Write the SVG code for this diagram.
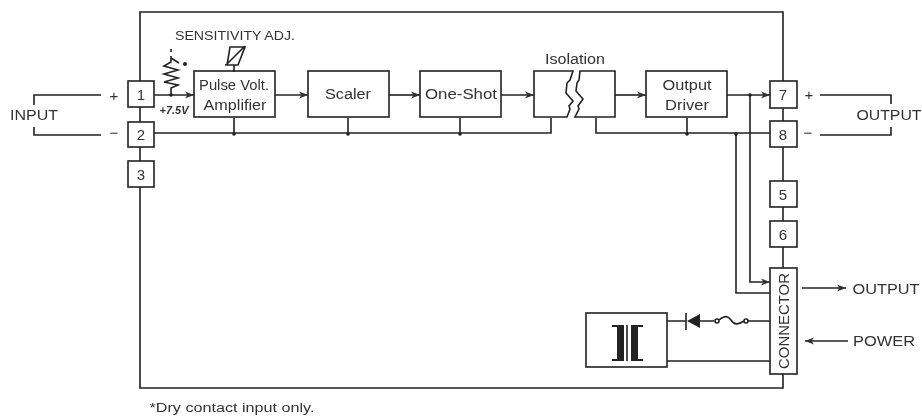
<svg xmlns="http://www.w3.org/2000/svg" width="922" height="416" viewBox="0 0 922 416">
<style>
text{font-family:"Liberation Sans",Arial,sans-serif;font-size:14px;fill:#333;text-anchor:middle}
.b{fill:#fff;stroke:#222;stroke-width:1.6}
.l{fill:none;stroke:#222;stroke-width:1.6}
.a{fill:none;stroke:#222;stroke-width:1.6;marker-end:url(#ah)}
.d{fill:#222;stroke:none}
.n{font-size:15px}
</style>
<defs>
<marker id="ah" markerUnits="userSpaceOnUse" markerWidth="10" markerHeight="8" refX="9" refY="4" orient="auto"><path d="M0,0.5L9,4L0,7.5L2.5,4Z" fill="#333"/></marker>
<filter id="s" x="-5%" y="-5%" width="110%" height="110%"><feGaussianBlur stdDeviation="0.45"/></filter>
</defs>
<rect width="922" height="416" fill="#fff"/>
<g filter="url(#s)">
<g id="connectors">
<path class="l" d="M140,81V12H783V81M140,107V122M140,147V161M140,187V388H783V374M783,108V121M783,147V181M783,207V221M783,247V268"/>
<path class="l" d="M101,95H34V105M34,127V135H101M820,95H891V104M891,127V135H820"/>
<path class="a" d="M154,95H194"/>
<path class="a" d="M275,95H308"/>
<path class="a" d="M389,95H420"/>
<path class="a" d="M501,95H534"/>
<path class="a" d="M615,95H646"/>
<path class="a" d="M727,95H770"/>
<path class="l" d="M154,133H551V118M596,118V133H770"/>
<path class="l" d="M234,118V133M348,118V133M460,118V133M687,118V133"/>
<path class="l" d="M736,133V293H770"/>
<path class="a" d="M750,95V282H770"/>
<path class="a" d="M802,288H846"/>
<path class="a" d="M848,341H805"/>
<path class="l" d="M667,321H686M700,321H714M748,321H770M667,361H770"/>
<circle class="d" cx="234" cy="134" r="1.8"/><circle class="d" cx="348" cy="134" r="1.8"/><circle class="d" cx="460" cy="134" r="1.8"/><circle class="d" cx="687" cy="134" r="1.8"/><circle class="d" cx="736" cy="134" r="1.8"/><circle class="d" cx="750" cy="95" r="1.8"/><circle class="d" cx="171" cy="95" r="1.8"/>
</g>
<g id="node-1"><rect class="b" x="128" y="81" width="26" height="26"/><text class="n" x="141" y="100">1</text></g>
<g id="node-2"><rect class="b" x="128" y="122" width="26" height="25"/><text class="n" x="141" y="140">2</text></g>
<g id="node-3"><rect class="b" x="128" y="161" width="26" height="26"/><text class="n" x="141" y="180">3</text></g>
<g id="node-7"><rect class="b" x="770" y="81" width="27" height="27"/><text class="n" x="783" y="100">7</text></g>
<g id="node-8"><rect class="b" x="770" y="121" width="27" height="26"/><text class="n" x="783" y="140">8</text></g>
<g id="node-5"><rect class="b" x="770" y="181" width="27" height="26"/><text class="n" x="783" y="200">5</text></g>
<g id="node-6"><rect class="b" x="770" y="221" width="27" height="26"/><text class="n" x="783" y="240">6</text></g>
<g id="pulse"><rect class="b" x="194" y="71" width="81" height="46"/><text x="234" y="90" textLength="70" lengthAdjust="spacingAndGlyphs">Pulse Volt.</text><text x="235" y="110" textLength="63" lengthAdjust="spacingAndGlyphs">Amplifier</text></g>
<g id="scaler"><rect class="b" x="308" y="71" width="81" height="46"/><text x="348" y="99" textLength="46" lengthAdjust="spacingAndGlyphs">Scaler</text></g>
<g id="oneshot"><rect class="b" x="420" y="71" width="81" height="46"/><text x="461" y="99" textLength="72" lengthAdjust="spacingAndGlyphs">One-Shot</text></g>
<g id="isolation">
<path class="b" d="M573,71H534V117H567L570,109L569,106L573,101L566,93L567,83L570,80Z"/>
<path class="b" d="M580,71H615V117H575L579,109L578,106L583,99L576,91L577,83L579,80Z"/>
<text x="575" y="64" textLength="60" lengthAdjust="spacingAndGlyphs">Isolation</text>
</g>
<g id="driver"><rect class="b" x="646" y="71" width="81" height="46"/><text x="687" y="90" textLength="49" lengthAdjust="spacingAndGlyphs">Output</text><text x="687" y="110" textLength="44" lengthAdjust="spacingAndGlyphs">Driver</text></g>
<g id="connector"><rect class="b" x="770" y="268" width="27" height="106"/><text transform="translate(789,321) rotate(-90)" textLength="96" lengthAdjust="spacingAndGlyphs">CONNECTOR</text></g>
<g id="supply">
<rect class="b" x="586" y="313" width="81" height="54"/>
<path class="d" d="M612,325H624V361H612V359H617V327H612Z"/>
<path class="d" d="M643,325H631V361H643V359H638V327H643Z"/>
<path class="l" d="M627,325V361"/>
</g>
<g id="diode-fuse">
<path class="l" d="M686,313V330"/>
<path class="d" d="M687,321L700,314V328Z"/>
<circle class="l" cx="717" cy="321" r="2"/><circle class="l" cx="746" cy="321" r="2"/>
<path class="l" d="M719,320C725,315 728,316 731,320C734,325 738,325 744,321"/>
</g>
<g id="sensitivity">
<path class="l" d="M171,49V52M171,56V62L164,66L178,70L164,74L178,78L164,82L178,85L171,88V95"/>
<path class="l" d="M171,58L179,63"/>
<circle class="d" cx="185" cy="64" r="2"/>
<path class="l" d="M230,47H245L238,65H227ZM234,72V65M225,65H229M226,65L245,46"/>
<text x="235" y="40" style="font-size:12px" textLength="120" lengthAdjust="spacingAndGlyphs">SENSITIVITY ADJ.</text>
<text x="174" y="114" style="font-size:10px;font-style:italic;font-weight:bold" textLength="29" lengthAdjust="spacingAndGlyphs">+7.5V</text>
</g>
<g id="labels">
<text x="34" y="120" textLength="48" lengthAdjust="spacingAndGlyphs">INPUT</text>
<text class="n" x="114" y="101">+</text><text class="n" x="114" y="138">−</text>
<text class="n" x="809" y="100">+</text><text class="n" x="808" y="138">−</text>
<text x="889" y="120" textLength="65" lengthAdjust="spacingAndGlyphs">OUTPUT</text>
<text x="886" y="294" textLength="67" lengthAdjust="spacingAndGlyphs">OUTPUT</text>
<text x="884" y="346" textLength="62" lengthAdjust="spacingAndGlyphs">POWER</text>
<text x="232" y="412" style="font-size:13px" textLength="165" lengthAdjust="spacingAndGlyphs">*Dry contact input only.</text>
</g>
</g>
</svg>
